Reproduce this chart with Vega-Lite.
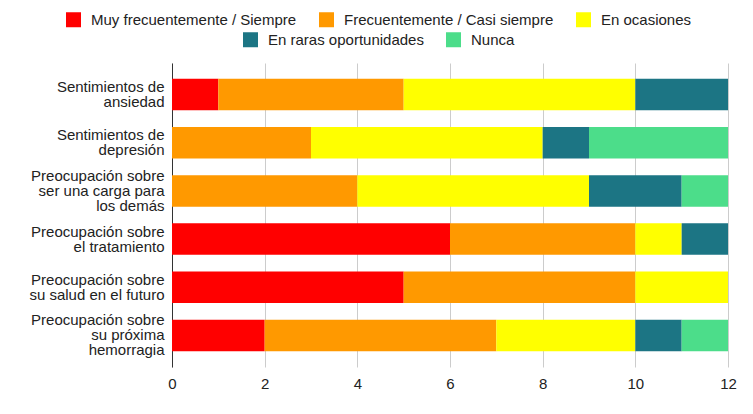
{
  "$schema": "https://vega.github.io/schema/vega-lite/v6.json",
  "width": 556,
  "height": 304,
  "autosize": {"type": "none"},
  "padding": {"left": 172, "top": 63, "right": 25, "bottom": 47},
  "background": "white",
  "config": {
    "font": "Liberation Sans",
    "view": {"stroke": null},
    "legend": {"labelFont": "Liberation Sans", "labelFontSize": 15, "labelColor": "#222222", "labelLimit": 400, "symbolType": "square", "symbolSize": 225, "symbolStrokeWidth": 0, "symbolOpacity": 1, "labelOffset": 10, "columnPadding": 22, "padding": 0, "direction": "horizontal", "orient": "none", "title": null}
  },
  "data": {
    "values": [
      {"cat": "Sentimientos de|ansiedad", "resp": "Muy frecuentemente / Siempre", "k": 1, "n": 1},
      {"cat": "Sentimientos de|ansiedad", "resp": "Frecuentemente / Casi siempre", "k": 2, "n": 4},
      {"cat": "Sentimientos de|ansiedad", "resp": "En ocasiones", "k": 3, "n": 5},
      {"cat": "Sentimientos de|ansiedad", "resp": "En raras oportunidades", "k": 4, "n": 2},
      {"cat": "Sentimientos de|depresión", "resp": "Frecuentemente / Casi siempre", "k": 2, "n": 3},
      {"cat": "Sentimientos de|depresión", "resp": "En ocasiones", "k": 3, "n": 5},
      {"cat": "Sentimientos de|depresión", "resp": "En raras oportunidades", "k": 4, "n": 1},
      {"cat": "Sentimientos de|depresión", "resp": "Nunca", "k": 5, "n": 3},
      {"cat": "Preocupación sobre|ser una carga para|los demás", "resp": "Frecuentemente / Casi siempre", "k": 2, "n": 4},
      {"cat": "Preocupación sobre|ser una carga para|los demás", "resp": "En ocasiones", "k": 3, "n": 5},
      {"cat": "Preocupación sobre|ser una carga para|los demás", "resp": "En raras oportunidades", "k": 4, "n": 2},
      {"cat": "Preocupación sobre|ser una carga para|los demás", "resp": "Nunca", "k": 5, "n": 1},
      {"cat": "Preocupación sobre|el tratamiento", "resp": "Muy frecuentemente / Siempre", "k": 1, "n": 6},
      {"cat": "Preocupación sobre|el tratamiento", "resp": "Frecuentemente / Casi siempre", "k": 2, "n": 4},
      {"cat": "Preocupación sobre|el tratamiento", "resp": "En ocasiones", "k": 3, "n": 1},
      {"cat": "Preocupación sobre|el tratamiento", "resp": "En raras oportunidades", "k": 4, "n": 1},
      {"cat": "Preocupación sobre|su salud en el futuro", "resp": "Muy frecuentemente / Siempre", "k": 1, "n": 5},
      {"cat": "Preocupación sobre|su salud en el futuro", "resp": "Frecuentemente / Casi siempre", "k": 2, "n": 5},
      {"cat": "Preocupación sobre|su salud en el futuro", "resp": "En ocasiones", "k": 3, "n": 2},
      {"cat": "Preocupación sobre|su próxima|hemorragia", "resp": "Muy frecuentemente / Siempre", "k": 1, "n": 2},
      {"cat": "Preocupación sobre|su próxima|hemorragia", "resp": "Frecuentemente / Casi siempre", "k": 2, "n": 5},
      {"cat": "Preocupación sobre|su próxima|hemorragia", "resp": "En ocasiones", "k": 3, "n": 3},
      {"cat": "Preocupación sobre|su próxima|hemorragia", "resp": "En raras oportunidades", "k": 4, "n": 1},
      {"cat": "Preocupación sobre|su próxima|hemorragia", "resp": "Nunca", "k": 5, "n": 1}
    ]
  },
  "transform": [
    {"stack": "n", "groupby": ["cat"], "sort": [{"field": "k", "order": "ascending"}], "as": ["x0", "x1"]}
  ],
  "encoding": {
    "y": {
      "field": "cat",
      "type": "nominal",
      "sort": ["Sentimientos de|ansiedad", "Sentimientos de|depresión", "Preocupación sobre|ser una carga para|los demás", "Preocupación sobre|el tratamiento", "Preocupación sobre|su salud en el futuro", "Preocupación sobre|su próxima|hemorragia"],
      "scale": {"paddingInner": 0.346, "paddingOuter": 0.327},
      "axis": {
        "title": null,
        "labelExpr": "split(datum.label, '|')",
        "labelFontSize": 15,
        "labelColor": "#222222",
        "labelLineHeight": 15,
        "labelPadding": 8,
        "labelOffset": {"condition": {"test": "length(split(datum.value, '|')) > 2", "value": -15}, "value": -7.5},
        "ticks": false,
        "domain": true,
        "domainColor": "#333333",
        "domainWidth": 1,
        "grid": false,
        "labelLimit": 300
      }
    },
    "x": {
      "field": "x0",
      "type": "quantitative",
      "scale": {"domain": [0, 12], "nice": false},
      "axis": {"title": null, "values": [0, 2, 4, 6, 8, 10, 12], "grid": true, "gridColor": "#cccccc", "domain": false, "ticks": false, "labelFontSize": 15, "labelColor": "#222222", "labelPadding": 9, "labelFlush": false}
    },
    "x2": {"field": "x1"}
  },
  "layer": [
    {
      "transform": [{"filter": "datum.k <= 3"}],
      "mark": {"type": "bar"},
      "encoding": {
        "color": {
          "field": "resp",
          "type": "nominal",
          "scale": {"domain": ["Muy frecuentemente / Siempre", "Frecuentemente / Casi siempre", "En ocasiones"], "range": ["#ff0000", "#ff9900", "#ffff00"]},
          "legend": {"orient": "none", "legendX": -106, "legendY": -51, "direction": "horizontal", "title": null, "labelLimit": 400}
        }
      }
    },
    {
      "transform": [{"filter": "datum.k >= 4"}],
      "mark": {"type": "bar"},
      "encoding": {
        "color": {
          "field": "resp",
          "type": "nominal",
          "scale": {"domain": ["En raras oportunidades", "Nunca"], "range": ["#1c7584", "#4cdd8a"]},
          "legend": {"orient": "none", "legendX": 71, "legendY": -31, "direction": "horizontal", "title": null, "labelLimit": 400}
        }
      }
    }
  ],
  "resolve": {"scale": {"color": "independent"}, "legend": {"color": "independent"}}
}
